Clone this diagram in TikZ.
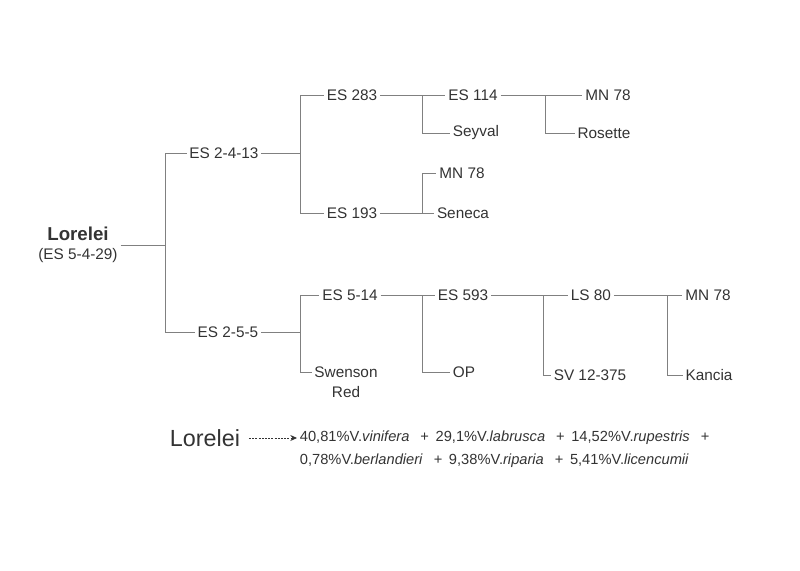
\documentclass[tikz,border=0pt]{standalone}
\usepackage{fontspec}
\setmainfont{Liberation Sans}
\usetikzlibrary{positioning,arrows.meta}

\tikzset{
  cv/.style={inner sep=2pt,text=black!80,font=\fontsize{11.5}{13}\selectfont},
  link/.style={draw=black!50,line width=0.5pt},
  legarrow/.style={draw=black!80,line width=0.6pt,dash pattern=on 1.6pt off 0.8pt,-{Stealth[length=5pt,width=4.5pt]}}
}
\newcommand{\spp}[1]{\textit{#1}}
\newcommand{\pl}{\hspace{0.75em}+\hspace{0.45em}}

\begin{document}
\begin{tikzpicture}[x=0.75pt,y=-0.75pt]
\useasboundingbox (0,0) rectangle (800,571);

% parent cultivars
\node[cv,align=center] (lor) at (78,245) {{\fontsize{14}{15}\selectfont\bfseries Lorelei}\\[1pt](ES 5-4-29)};
\node[cv] (es2413) at (224,153) {ES 2-4-13};
\node[cv] (es255) at (228,332) {ES 2-5-5};

% upper branch
\node[cv] (es283) at (352,95) {ES 283};
\node[cv] (es193) at (352,213) {ES 193};
\node[cv] (es114) at (473,95) {ES 114};
\node[cv] (seyval) at (476,133) {Seyval};
\node[cv] (mnA) at (608,95) {MN 78};
\node[cv] (rosette) at (604,133) {Rosette};
\node[cv] (mnB) at (462,173) {MN 78};
\node[cv] (seneca) at (463,213) {Seneca};

% lower branch
\node[cv] (es514) at (350,295) {ES 5-14};
\node[cv] (swenson) at (346,372) {Swenson};
\node[cv,below=2pt of swenson] (red) {Red};
\node[cv] (es593) at (463,295) {ES 593};
\node[cv] (op) at (464,372) {OP};
\node[cv] (ls80) at (591,295) {LS 80};
\node[cv] (sv) at (590,375) {SV 12-375};
\node[cv] (mnC) at (708,295) {MN 78};
\node[cv] (kancia) at (709,375) {Kancia};

% junctions
\coordinate (j1) at (165,245);
\coordinate (j2) at (300,153);
\coordinate (j3) at (422,95);
\coordinate (j4) at (545,95);
\coordinate (j5) at (422,213);
\coordinate (j6) at (300,332);
\coordinate (j7) at (422,295);
\coordinate (j8) at (543,295);
\coordinate (j9) at (667,295);

\draw[link] (lor.east) -- (j1);
\draw[link] (j1) |- (es2413.west);
\draw[link] (j1) |- (es255.west);
\draw[link] (es2413.east) -- (j2);
\draw[link] (j2) |- (es283.west);
\draw[link] (j2) |- (es193.west);
\draw[link] (es283.east) -- (es114.west);
\draw[link] (j3) |- (seyval.west);
\draw[link] (es114.east) -- (mnA.west);
\draw[link] (j4) |- (rosette.west);
\draw[link] (es193.east) -- (seneca.west);
\draw[link] (j5) |- (mnB.west);
\draw[link] (es255.east) -- (j6);
\draw[link] (j6) |- (es514.west);
\draw[link] (j6) |- (swenson.west);
\draw[link] (es514.east) -- (es593.west);
\draw[link] (j7) |- (op.west);
\draw[link] (es593.east) -- (ls80.west);
\draw[link] (j8) |- (sv.west);
\draw[link] (ls80.east) -- (mnC.west);
\draw[link] (j9) |- (kancia.west);

% pedigree composition
\node[cv,font=\fontsize{17.5}{19}\selectfont] (leg) at (205,438) {Lorelei};
\node[cv,anchor=west,font=\fontsize{11}{12}\selectfont] (mixA) at (297,438)
  {40,81\%V.\spp{vinifera}\pl 29,1\%V.\spp{labrusca}\pl 14,52\%V.\spp{rupestris}\pl};
\node[cv,anchor=west,font=\fontsize{11}{12}\selectfont] (mixB) at (297,461)
  {0,78\%V.\spp{berlandieri}\pl 9,38\%V.\spp{riparia}\pl 5,41\%V.\spp{licencumii}};
\draw[legarrow] (leg.east) ++(6,0) -- (mixA.west);
\end{tikzpicture}
\end{document}
